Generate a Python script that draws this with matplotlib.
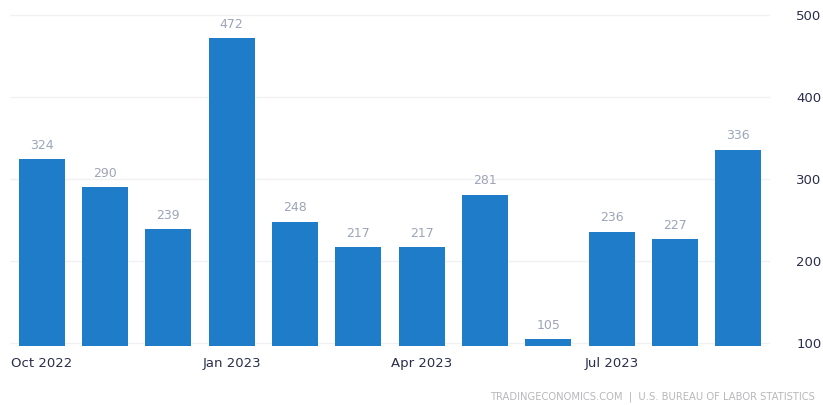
import matplotlib
matplotlib.use("Agg")
import matplotlib.pyplot as plt

# Monthly nonfarm payroll changes (thousands)
months = ["Oct 2022", "Nov 2022", "Dec 2022", "Jan 2023", "Feb 2023", "Mar 2023",
          "Apr 2023", "May 2023", "Jun 2023", "Jul 2023", "Aug 2023", "Sep 2023"]
values = [324, 290, 239, 472, 248, 217, 217, 281, 105, 236, 227, 336]
y_ticks = [100, 200, 300, 400, 500]
shown_month_labels = ["Oct 2022", "Jan 2023", "Apr 2023", "Jul 2023"]

bar_color = "#1f7cc8"
axis_text = "#2a2e4c"
value_text = "#9ca5b8"

fig = plt.figure(figsize=(8.23, 4.05), dpi=100)
ax = fig.add_axes([10 / 823, 0.145, 760 / 823, 0.838])

ymin, ymax = 96, 510
x = list(range(len(values)))
ax.bar(x, [v - ymin for v in values], bottom=ymin, width=0.73,
       color=bar_color, zorder=3)

for xi, v in zip(x, values):
    ax.text(xi, v + 9, str(v), ha="center", va="bottom",
            fontsize=9, color=value_text, zorder=4)

ax.set_xlim(-0.5, len(values) - 0.5)
ax.set_ylim(ymin, ymax)

tick_pos = [months.index(m) for m in shown_month_labels]
ax.set_xticks(tick_pos)
ax.set_xticklabels(shown_month_labels, fontsize=9.5, color=axis_text)
ax.tick_params(axis="x", length=0, pad=8)

ax.yaxis.tick_right()
ax.set_yticks(y_ticks)
ax.set_yticklabels([str(t) for t in y_ticks], fontsize=9.5, color=axis_text)
ax.tick_params(axis="y", length=0, pad=19)

ax.grid(axis="y", color="#f1f1f3", linewidth=1, zorder=0)
for s in ax.spines.values():
    s.set_visible(False)

fig.text(815 / 823, 1 - 397 / 405,
         "TRADINGECONOMICS.COM  |  U.S. BUREAU OF LABOR STATISTICS",
         ha="right", va="center", fontsize=7.2, color="#b8b8bc")

fig.savefig("out.png", dpi=100)
